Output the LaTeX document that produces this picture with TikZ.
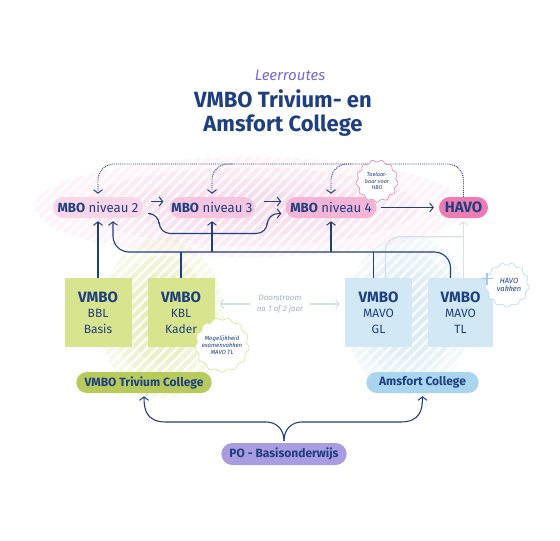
\documentclass[tikz,border=0pt]{standalone}
\usepackage{fontspec}
\setmainfont{Fira Sans}
\usetikzlibrary{arrows.meta,calc,shapes.misc}
\definecolor{navy}{HTML}{1E3F80}
\definecolor{pk1}{HTML}{F9D6E8}
\definecolor{pk2}{HTML}{F6C6E0}
\definecolor{pk3}{HTML}{F4B4D5}
\definecolor{havoc}{HTML}{EC7CB2}
\definecolor{grn}{HTML}{D9E48E}
\definecolor{grnd}{HTML}{B8CA5C}
\definecolor{blu}{HTML}{D2E8F5}
\definecolor{blud}{HTML}{A9D5EE}
\definecolor{lav}{HTML}{A99CE0}
\definecolor{ltline}{HTML}{D3DFEB}
\definecolor{purp}{HTML}{7B6AD2}
\definecolor{greytxt}{HTML}{9DB0CF}
\definecolor{pinkline}{HTML}{E88FBE}
\definecolor{grnline}{HTML}{DDE6A2}
\definecolor{bluline}{HTML}{BCDCF0}
\definecolor{plusc}{HTML}{9FCBEA}
\newcommand\mywavy[4]{\draw[#4,shift={#1}] plot[domain=0:360,samples=261,smooth] ({(#2+#3*sin(13*\x))*cos(\x)},{(#2+#3*sin(13*\x))*sin(\x)}) -- cycle;}
\newcommand\mystripes[5]{%
  \foreach \k in {0,...,3}{%
    \begin{scope}
    \clip #1 ellipse [x radius={#2*(1-0.22*\k)}, y radius={#3*(1-0.22*\k)}];
    \foreach \i in {-35,...,35} \draw[#4,line width=4.5pt,draw opacity=#5] ($#1+(\i*10-100,100)$) -- ++(200,-200);
    \end{scope}}}
\tikzset{
  tip/.style={-{Straight Barb[length=3.5pt,width=9pt,line width=1pt]}},
  conn/.style={draw=navy,line width=1.1pt},
  dots/.style={draw=navy,line width=0.9pt,densely dotted},
  faint/.style={draw=ltline,line width=1.1pt},
  pill/.style={rounded rectangle,minimum height=21pt,inner xsep=3pt,text=navy,font=\fontsize{13.2}{15}\selectfont},
  vbox/.style={minimum width=67pt,minimum height=69pt,align=center,text=navy,font=\fontsize{12}{15.5}\selectfont},
  school/.style={rounded rectangle,minimum height=21pt,text=navy,font=\bfseries\fontsize{12}{14}\selectfont},
  badgetext/.style={align=center,text=navy,font=\itshape\fontsize{5.5}{6.5}\selectfont,inner sep=0pt},
}
\begin{document}
\begin{tikzpicture}[x=1pt,y=-1pt]
\useasboundingbox[fill=white] (0,0) rectangle (560,541);
% stripes
\mystripes{(250,207)}{215}{50}{pk2}{0.2}
\mystripes{(162,318)}{62}{80}{grn}{0.2}
\mystripes{(408,315)}{62}{80}{blu}{0.3}
% title
\node[text=purp,font=\itshape\fontsize{15}{17}\selectfont] (lr) at (290,75) {Leerroutes};
\node[text=navy,font=\bfseries\fontsize{22}{24}\selectfont,align=center] (title) at (283,113) {VMBO Trivium- en\\Amsfort College};
% MBO row
\node[pill,fill=pk1,minimum width=96pt] (m2) at (98,207.5) {\textbf{MBO} niveau 2};
\node[pill,fill=pk2,minimum width=91pt] (m3) at (212,207.5) {\textbf{MBO} niveau 3};
\node[pill,fill=pk3,minimum width=97pt] (m4) at (331,207.5) {\textbf{MBO} niveau 4};
\node[pill,fill=havoc,minimum width=55pt,font=\bfseries\fontsize{15}{16}\selectfont] (havo) at (463.5,207.5) {HAVO};
% VMBO boxes
\node[vbox,fill=grn] (bbl) at (98,312.5) {{\bfseries\fontsize{15}{15.5}\selectfont VMBO}\\BBL\\Basis};
\node[vbox,fill=grn] (kbl) at (181,312.5) {{\bfseries\fontsize{15}{15.5}\selectfont VMBO}\\KBL\\Kader};
\node[vbox,fill=blu] (gl) at (378.5,312.5) {{\bfseries\fontsize{15}{15.5}\selectfont VMBO}\\MAVO\\GL};
\node[vbox,fill=blu,minimum width=65pt] (tl) at (460.5,312.5) {{\bfseries\fontsize{15}{15.5}\selectfont VMBO}\\MAVO\\TL};
% schools
\node[school,fill=grnd,minimum width=142pt] (triv) at (144,382.5) {VMBO Trivium College};
\node[school,fill=blud,minimum width=119pt] (ams) at (422.5,382.5) {Amsfort College};
\node[school,fill=lav,minimum width=132pt,minimum height=22pt] (po) at (284,454) {PO - Basisonderwijs};
% doorstroom
\node[text=greytxt,font=\itshape\fontsize{8}{11}\selectfont,align=center] (door) at (280,304) {Doorstroom\\na 1 of 2 jaar};
\draw[faint,tip,shorten <=3pt,shorten >=5pt] (door.west) -- (door.west -| kbl.east);
\draw[faint,tip,shorten <=3pt,shorten >=5pt] (door.east) -- (door.east -| gl.west);
% light connectors to HAVO
\coordinate (lj) at ($(havo.south)+(0,18.5)$);
\draw[faint,rounded corners=14pt] ($(gl.north)+(7,0)$) |- (lj);
\draw[faint,tip,shorten >=3pt] (havo.south |- tl.north) -- (havo.south);
% navy bus
\coordinate (bus) at (113,252);
\draw[conn,tip,shorten >=3pt] (bbl.north) -- (m2.south);
\draw[conn,tip,rounded corners=16pt,shorten >=3pt] ($(tl.north)+(-10,0)$) |- (bus) -- (bus |- m2.south);
\draw[conn] (kbl.north) -- (kbl.north |- bus);
\draw[conn] ($(gl.north)+(-5,0)$) -- ($(gl.north |- bus)+(-5,0)$);
\draw[conn,tip,shorten >=3pt] (m3.south |- bus) -- (m3.south);
\draw[conn,tip,shorten >=3pt] (m4.south |- bus) -- (m4.south);
% row arrows
\draw[conn,tip] ($(m2.east)+(8,-6)$) -- ($(m3.west)+(-6,-6)$);
\draw[conn,tip] ($(m3.east)+(9,-6)$) -- ($(m4.west)+(-4,-6)$);
\draw[conn,tip,rounded corners=11pt] ($(m2.east)+(8,6)$) -- ($(m2.east)+(16,6)$) -- ($(m2.east)+(16,26)$) -- ($(m4.west)+(-18,26)$) -- ($(m4.west)+(-18,6)$) -- ($(m4.west)+(-4,6)$);
\draw[conn,tip] ($(m4.east)+(4,0)$) -- ($(havo.west)+(-5,0)$);
% dotted returns from HAVO
\coordinate (top) at (300,164);
\draw[dots,tip,rounded corners=16pt,shorten >=3pt] (havo.north) -- (havo.north |- top) -- (m2.north |- top) -- (m2.north);
\draw[dots,tip,rounded corners=16pt,shorten >=3pt] ($(m3.north |- top)+(20,0)$) -- (m3.north |- top) -- (m3.north);
\draw[dots,tip,rounded corners=16pt,shorten >=3pt] ($(m4.north |- top)+(20,0)$) -- (m4.north |- top) -- (m4.north);
% PO brace
\coordinate (bl) at (266,422);
\coordinate (br) at (302,422);
\draw[conn,tip,shorten >=3pt] ($(po.north)+(0,-2)$) .. controls ($(po.north)+(0,-14)$) and ($(bl)+(10,0)$) .. (bl) -- ($(triv.south |- bl)+(22,0)$) .. controls ($(triv.south |- bl)+(2,0)$) and ($(triv.south)+(0,16)$) .. (triv.south);
\draw[conn,tip,shorten >=3pt] ($(po.north)+(0,-2)$) .. controls ($(po.north)+(0,-14)$) and ($(br)+(-10,0)$) .. (br) -- ($(ams.south |- br)+(-22,0)$) .. controls ($(ams.south |- br)+(-2,0)$) and ($(ams.south)+(0,16)$) .. (ams.south);
% badges
\coordinate (b1) at (377,181);
\mywavy{(b1)}{20}{1.1}{draw=pinkline,fill=white,line width=0.7pt}
\node[badgetext] (b1t) at (b1) {Toelaat-\\baar voor\\HBO};
\coordinate (b2) at (222,345);
\mywavy{(b2)}{26}{1.2}{draw=grnline,fill=white,line width=0.7pt}
\node[badgetext,font=\itshape\fontsize{6}{7}\selectfont] (b2t) at (b2) {Mogelijkheid\\examenvakken\\MAVO TL};
\coordinate (b3) at (507,285);
\mywavy{(b3)}{21}{1.1}{draw=bluline,fill=white,line width=0.7pt}
\node[badgetext,font=\itshape\fontsize{7.5}{8.5}\selectfont] (b3t) at ($(b3)+(2,0)$) {HAVO\\vakken};
\draw[draw=plusc,line width=1.4pt] (481,278.5) -- (493,278.5) (487,272.5) -- (487,284.5);
\end{tikzpicture}
\end{document}
